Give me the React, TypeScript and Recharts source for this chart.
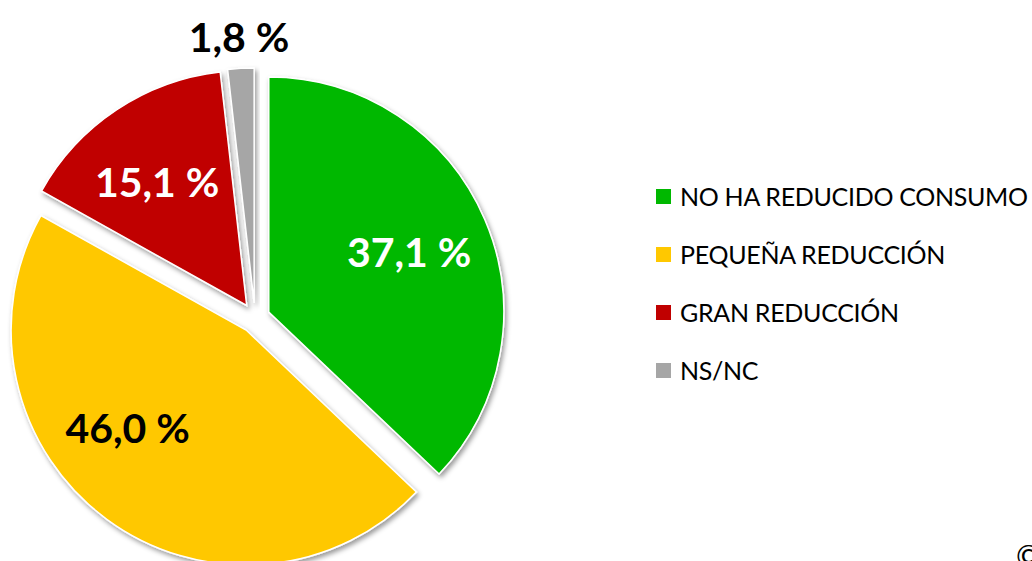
import { Legend, Pie, PieChart, Sector } from "recharts";

const categories = ["NO HA REDUCIDO CONSUMO", "PEQUEÑA REDUCCIÓN", "GRAN REDUCCIÓN", "NS/NC"];
const shares = [37.1, 46.0, 15.1, 1.8];
const valueLabels = ["37,1 %", "46,0 %", "15,1 %", "1,8 %"];

const PALETTE = ["#00B800", "#FFC800", "#C00000", "#A6A6A6"];
const LABEL_INK = ["#FFFFFF", "#000000", "#FFFFFF", "#000000"];
// small angular tweaks (degrees) so labels sit where Excel put them
const LABEL_NUDGE: Record<number, number> = { 1: -13, 2: 2 };

const data = categories.map((name, i) => ({ name, value: shares[i], fill: PALETTE[i] }));

const RADIAN = Math.PI / 180;
const EXPLODE = 15;
const FONT = "Lato, 'Open Sans', sans-serif";

function ExplodedSector(props: any) {
  const { cx, cy, midAngle } = props;
  const dx = EXPLODE * Math.cos(-midAngle * RADIAN);
  const dy = EXPLODE * Math.sin(-midAngle * RADIAN);
  return (
    <Sector
      {...props}
      cx={cx + dx}
      cy={cy + dy}
      stroke="#ffffff"
      strokeWidth={1.5}
      filter="url(#sliceShadow)"
    />
  );
}

function renderLabel(props: any) {
  const { cx, cy, midAngle, outerRadius, percent, index } = props;
  const inside = percent > 0.05;
  const angle = (midAngle + (LABEL_NUDGE[index] ?? 0)) * RADIAN;
  const r = inside ? outerRadius * 0.65 + EXPLODE : outerRadius + 47;
  const x = cx + r * Math.cos(-angle);
  const y = cy + r * Math.sin(-angle);
  return (
    <text
      x={x}
      y={y}
      fill={LABEL_INK[index]}
      textAnchor="middle"
      dominantBaseline="central"
      fontFamily={FONT}
      fontWeight={700}
      fontSize={41}
    >
      {valueLabels[index]}
    </text>
  );
}

function LegendList({ payload }: any) {
  const items = categories.map((c, i) => {
    const hit = (payload || []).find((p: any) => p.value === c);
    return { label: c, color: hit?.color ?? PALETTE[i] };
  });
  return (
    <div style={{ fontFamily: FONT, fontSize: 25, letterSpacing: -0.3, color: "#000" }}>
      {items.map((it) => (
        <div key={it.label} style={{ display: "flex", alignItems: "center", height: 58, whiteSpace: "nowrap" }}>
          <span style={{ width: 15, height: 15, background: it.color, marginRight: 9, flex: "none" }} />
          <span>{it.label}</span>
        </div>
      ))}
    </div>
  );
}

export default function App() {
  return (
    <div
      style={{
        position: "absolute",
        left: 0,
        top: 0,
        width: 1032,
        height: 561,
        overflow: "hidden",
        background: "#ffffff",
      }}
    >
      <PieChart width={1032} height={561} margin={{ top: 0, right: 0, bottom: 0, left: 0 }}>
        <defs>
          <filter id="sliceShadow" x="-20%" y="-20%" width="140%" height="140%">
            <feDropShadow dx={2} dy={3} stdDeviation={2.5} floodColor="#000" floodOpacity={0.4} />
          </filter>
        </defs>
        <Pie
          data={data}
          dataKey="value"
          nameKey="name"
          cx={255}
          cy={318}
          outerRadius={235}
          startAngle={90}
          endAngle={-270}
          labelLine={false}
          label={renderLabel}
          shape={ExplodedSector}
          activeShape={ExplodedSector}
          inactiveShape={ExplodedSector}
          isAnimationActive={false}
        />
        <Legend
          layout="vertical"
          align="right"
          verticalAlign="middle"
          content={<LegendList />}
          wrapperStyle={{ left: 656, top: 167, width: 376 }}
        />
      </PieChart>
      <div
        style={{
          position: "absolute",
          left: 1016,
          top: 540,
          fontFamily: FONT,
          fontSize: 30,
          lineHeight: "30px",
          color: "#000",
        }}
      >
        ©
      </div>
    </div>
  );
}
